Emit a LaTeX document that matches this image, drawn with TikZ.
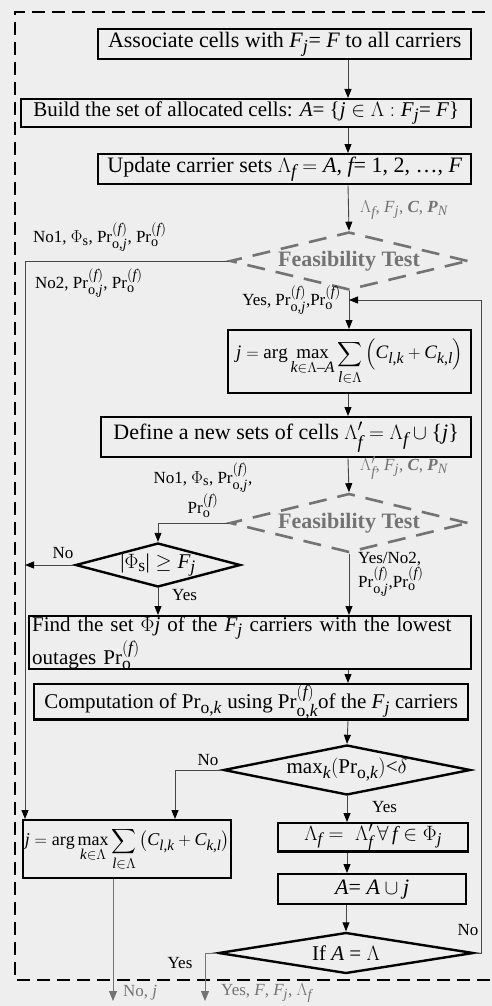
\documentclass[tikz,border=0pt]{standalone}
\usepackage{amsmath}
\usepackage{fontspec}
\setmainfont{Liberation Serif}
\usepackage[italic]{mathastext}
\usetikzlibrary{arrows.meta,shapes.geometric}
\definecolor{bg}{RGB}{238,238,238}
\definecolor{lbl}{RGB}{115,115,115}
\definecolor{ln}{RGB}{70,70,70}
\newcommand{\myPrOj}{\mathrm{Pr}_{\mathrm{o},j}^{(f)}}
\newcommand{\myPrO}{\mathrm{Pr}_{\mathrm{o}}^{(f)}}
\begin{document}
\begin{tikzpicture}[x=1pt,y=-1pt,
  box/.style={draw=black, line width=2.4pt, fill=bg, inner sep=0pt, anchor=north west, font=\fontsize{22}{25}\selectfont},
  dia/.style={diamond, draw=black, line width=2.4pt, fill=bg, inner sep=0pt},
  fdia/.style={diamond, draw=lbl, line width=2.6pt, dash pattern=on 18pt off 11pt, fill=bg, inner sep=0pt},
  arr/.style={draw=ln, line width=0.9pt, -{Triangle[length=9pt,width=7pt,color=black]}},
  outarr/.style={draw=lbl, line width=1pt, -{Triangle[length=10pt,width=8pt,color=lbl]}},
  lab/.style={inner sep=0pt, font=\fontsize{17}{19}\selectfont},
  glab/.style={inner sep=0pt, text=lbl, font=\fontsize{17}{19}\selectfont},
  dtxt/.style={inner sep=0pt, font=\fontsize{21}{23}\selectfont},
]
\useasboundingbox (0,0) rectangle (492,1006);
\fill[bg] (0,0) rectangle (492,1006);
\draw[line width=1.8pt, dash pattern=on 13pt off 7pt] (505,12) -- (15,12) -- (15,980) -- (505,980);

% helper x positions
\coordinate (cx) at (348,0);
\coordinate (lx) at (25,0);
\coordinate (nx) at (175,0);
\coordinate (rx) at (481,0);
\coordinate (lp) at (349,300);
\coordinate (out1) at (113,1001);
\coordinate (out2) at (205,1001);

% boxes
\node[box, minimum width=373pt, minimum height=30pt] (b1) at (97,28) {Associate cells with $F_j$= $F$ to all carriers};
\node[box, minimum width=450pt, minimum height=28pt, font=\fontsize{21}{24}\selectfont] (b2) at (20,98) {Build the set of allocated cells: $A$= $\{j\in\Lambda : F_j$= $F\}$};
\node[box, minimum width=373pt, minimum height=30pt] (b3) at (97,153) {Update carrier sets $\Lambda_f = A$, $f$= 1, 2, \ldots, $F$};
\node[box, minimum width=243pt, minimum height=63pt, font=\fontsize{19}{21}\selectfont] (b4) at (227,329) {$\displaystyle j=\arg\max_{k\in\Lambda-A}\sum_{l\in\Lambda}\left(C_{l,k}+C_{k,l}\right)$};
\node[box, minimum width=370pt, minimum height=40pt] (b5) at (100,416) {Define a new sets of cells $\Lambda'_f = \Lambda_f\cup\{j\}$};
\node[box, minimum width=442pt, minimum height=53pt, align=left, text width=436pt, inner xsep=3pt, font=\fontsize{21}{25}\selectfont] (b6) at (28,615) {Find the set $\Phi j$ of the $F_j$ carriers with the lowest\\outages $\myPrO$};
\node[box, minimum width=434pt, minimum height=29pt, font=\fontsize{21}{24}\selectfont] (b7) at (33,683) {Computation of $\mathrm{Pr}_{\mathrm{o},k}$ using $\mathrm{Pr}_{\mathrm{o},k}^{(f)}$of the $F_j$ carriers};
\node[box, minimum width=190pt, minimum height=26pt, font=\fontsize{20}{22}\selectfont] (b8) at (277,822) {$\Lambda_f=\;\Lambda'_f\,\forall\, f\in\Phi_j$};
\node[box, minimum width=208pt, minimum height=58pt, font=\fontsize{18}{20}\selectfont] (b9) at (22,819) {$\displaystyle j=\arg\max_{k\in\Lambda}\sum_{l\in\Lambda}\left(C_{l,k}+C_{k,l}\right)$};
\node[box, minimum width=188pt, minimum height=30pt] (b10) at (277,873) {$A$= $A\cup j$};

% diamonds
\node[fdia, minimum width=238pt, minimum height=58pt] (d1) at (349,261) {};
\node[dtxt, text=lbl, font=\fontsize{22}{24}\selectfont\bfseries] (d1t) at (d1) {Feasibility Test};
\node[fdia, minimum width=238pt, minimum height=59pt] (d2) at (349,523) {};
\node[dtxt, text=lbl, font=\fontsize{22}{24}\selectfont\bfseries] (d2t) at (d2) {Feasibility Test};
\node[dia, minimum width=165pt, minimum height=44pt] (d3) at (158,565) {};
\node[dtxt] (d3t) at (d3) {$|\Phi_\mathrm{s}|\geq F_j$};
\node[dia, minimum width=247pt, minimum height=50pt] (d4) at (347,770) {};
\node[dtxt] (d4t) at (d4) {$\max_k(\mathrm{Pr}_{\mathrm{o},k})$<$\delta$};
\node[dia, minimum width=255pt, minimum height=41pt] (d5) at (346,953) {};
\node[dtxt] (d5t) at (d5) {If $A$ = $\Lambda$};

% connectors
\draw[arr] (b1.south -| cx) -- (b2.north -| cx);
\draw[arr] (b2.south -| cx) -- (b3.north -| cx);
\draw[arr] (b3.south -| cx) -- (d1.north);
\draw[arr] (d1.west) -| (b9.north -| lx);
\draw[arr] (d1.south) -- (b4.north -| d1.south);
\draw[arr] (d5.east) -- (d5.east -| rx) -- (rx |- lp) -- (lp);
\draw[arr] (b4.south -| cx) -- (b5.north -| cx);
\draw[arr] (b5.south -| cx) -- (d2.north);
\draw[arr] (d2.west) -| (d3.north);
\draw[arr] (d3.west) -- (d3.west -| lx);
\draw[arr] (d3.south) -- (b6.north -| d3.south);
\draw[arr] (d2.south) -- (b6.north -| d2.south);
\draw[arr] (b6.south -| cx) -- (b7.north -| cx);
\draw[arr] (b7.south -| cx) -- (d4.north);
\draw[arr] (d4.west) -| (b9.north -| nx);
\draw[arr] (d4.south) -- (b8.north -| d4.south);
\draw[arr] (b8.south -| d4.south) -- (b10.north -| d4.south);
\draw[arr] (b10.south -| d5.north) -- (d5.north);
\draw[outarr] (d5.west) -| (out2);
\draw[outarr] (b9.south -| out1) -- (out1);

% labels
\node[glab, anchor=west] (l1) at (360,210) {$\Lambda_f$, $F_j$, $\boldsymbol{C}$, $\boldsymbol{P}_{N}$};
\node[lab, anchor=west] (l2) at (33,237) {No1, $\Phi_\mathrm{s}$, $\myPrOj$, $\myPrO$};
\node[lab, anchor=west] (l3) at (35,283) {No2, $\myPrOj$, $\myPrO$};
\node[lab, anchor=east] (l4) at (341,300) {Yes, $\myPrOj$,$\myPrO$};
\node[glab, anchor=west] (l5) at (360,468) {$\Lambda'_f$, $F_j$, $\boldsymbol{C}$, $\boldsymbol{P}_{N}$};
\node[lab, align=center] (l6) at (203,490) {No1, $\Phi_\mathrm{s}$, $\myPrOj$,\\$\myPrO$};
\node[lab] (l7) at (63,553) {No};
\node[lab, anchor=west] (l8) at (172,595) {Yes};
\node[lab, anchor=west, align=left] (l9) at (358,574) {Yes/No2,\\$\myPrOj$,$\myPrO$};
\node[lab] (l10) at (208,760) {No};
\node[lab, anchor=west] (l11) at (372,807) {Yes};
\node[lab] (l12) at (468,930) {No};
\node[lab] (l13) at (180,963) {Yes};
\node[glab, anchor=west] (l14) at (123,993) {No, $j$};
\node[glab, anchor=west] (l15) at (221,993) {Yes, $F$, $F_j$, $\Lambda_f$};
\end{tikzpicture}
\end{document}
